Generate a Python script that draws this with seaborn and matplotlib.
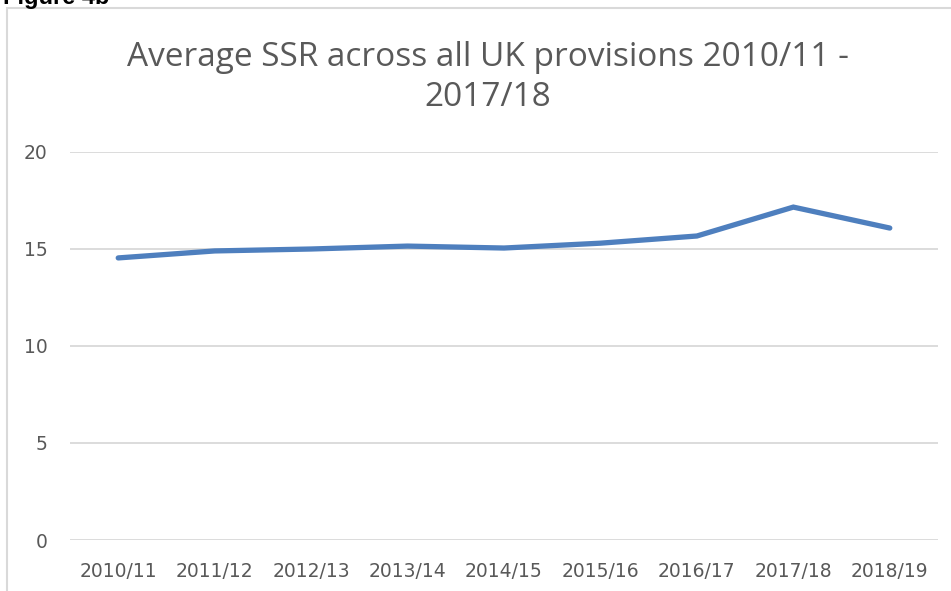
import matplotlib
matplotlib.use('Agg')
import matplotlib.pyplot as plt
import seaborn as sns
import pandas as pd
from matplotlib.patches import Rectangle

# --- data ---
years = ['2010/11', '2011/12', '2012/13', '2013/14', '2014/15',
         '2015/16', '2016/17', '2017/18', '2018/19']
avg_ssr = [14.54, 14.9, 15.0, 15.15, 15.05, 15.3, 15.67, 17.16, 16.08]
y_ticks = [0, 5, 10, 15, 20]

df = pd.DataFrame({'year': years, 'ssr': avg_ssr})

sns.set_theme(style='white')
plt.rcParams['font.family'] = ['DejaVu Sans']

fig = plt.figure(figsize=(9.51, 5.91), dpi=100)
ax = fig.add_axes([70 / 951, 1 - 540 / 591, 868 / 951, (540 - 152) / 591])

sns.lineplot(data=df, x='year', y='ssr', ax=ax, color='#4E7FBE',
             linewidth=3.8, solid_capstyle='round', solid_joinstyle='miter', sort=False)

ax.set_xlim(-0.5, len(years) - 0.5)
ax.set_ylim(0, 20)
ax.set_yticks(y_ticks)
ax.yaxis.grid(True, color='#D9D9D9', linewidth=1.3)
ax.set_axisbelow(True)
for s in ax.spines.values():
    s.set_visible(False)
ax.set_xlabel('')
ax.set_ylabel('')
ax.tick_params(axis='both', length=0, labelsize=13.5, labelcolor='#595959')
ax.tick_params(axis='y', pad=16)
ax.tick_params(axis='x', pad=16)

# chart frame (cut off on right and bottom)
fig.patches.append(Rectangle((7 / 951, -0.05), 1.2, 1.05 - 8 / 591, transform=fig.transFigure,
                             fill=False, edgecolor='#D9D9D9', linewidth=1.5, zorder=0))

title_font = ['Open Sans', 'DejaVu Sans']
fig.text(488 / 951, 1 - 58 / 591, 'Average SSR across all UK provisions 2010/11 -',
         ha='center', va='center', fontsize=24, color='#595959', family=title_font)
fig.text(488 / 951, 1 - 98 / 591, '2017/18',
         ha='center', va='center', fontsize=24, color='#595959', family=title_font)

# caption cut off at the top of the page
fig.text(3 / 951, 1 - 4 / 591, 'Figure 4b', ha='left', va='baseline',
         fontsize=17, fontweight='bold', color='black',
         family=['Liberation Sans', 'DejaVu Sans'])

fig.savefig('out.png', dpi=100)
